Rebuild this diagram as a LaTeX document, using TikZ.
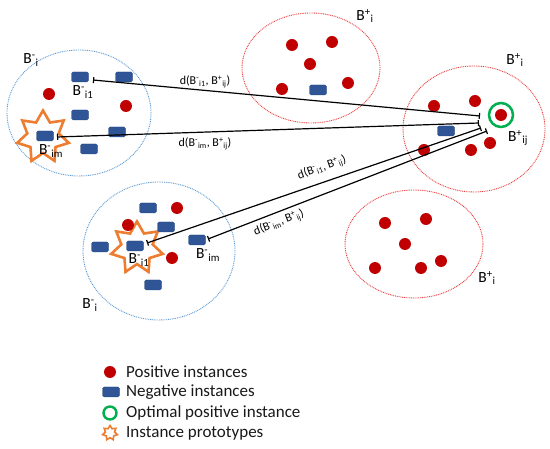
\documentclass[tikz,border=0pt]{standalone}
\usepackage{fontspec}
\setmainfont{Carlito}
\usetikzlibrary{shapes.geometric,arrows.meta}
\definecolor{posred}{RGB}{192,0,0}
\definecolor{negblue}{RGB}{47,85,151}
\definecolor{bagblue}{RGB}{91,155,213}
\definecolor{bagred}{RGB}{235,60,60}
\definecolor{optgreen}{RGB}{0,176,80}
\definecolor{protoorange}{RGB}{237,125,49}
\newcommand{\bagl}[2]{B\textsuperscript{#1}\textsubscript{#2}}
\begin{document}
\begin{tikzpicture}[x=1pt,y=-1pt,
 posinst/.style={circle,fill=posred,minimum size=12pt,inner sep=0pt},
 neginst/.style={rectangle,rounded corners=1.5pt,fill=negblue,draw=negblue!80!black,line width=0.3pt,minimum width=17pt,minimum height=10pt,inner sep=0pt},
 negbag/.style={draw=bagblue,line width=0.9pt,dash pattern=on 0.9pt off 0.9pt},
 posbag/.style={draw=bagred,line width=0.9pt,dash pattern=on 0.9pt off 0.9pt},
 proto/.style={star,star points=7,star point ratio=1.65,draw=protoorange,line width=2.6pt,minimum size=53pt,inner sep=0pt},
 opt/.style={circle,draw=optgreen,line width=2.5pt,minimum size=24pt,inner sep=0pt},
 lbl/.style={font=\fontsize{15.5}{17}\selectfont,inner sep=0pt},
 dlbl/.style={font=\fontsize{12}{14}\selectfont,inner sep=0pt},
 dist/.style={{Bar[width=6pt,line width=1.2pt]}-{Bar[width=6pt,line width=1.2pt]},line width=1.2pt},
 leg/.style={font=\fontsize{17}{19}\selectfont,anchor=west,inner sep=0pt,text=black!90}]
\useasboundingbox[fill=white] (0,0) rectangle (550,449);

% bags
\draw[negbag] (79,113) ellipse [x radius=72pt, y radius=63pt];
\draw[negbag] (159,251) ellipse [x radius=76pt, y radius=69pt];
\draw[posbag] (311,68) ellipse [x radius=69pt, y radius=55pt];
\draw[posbag] (474,129) ellipse [x radius=71pt, y radius=63pt];
\draw[posbag] (414,244) ellipse [x radius=69pt, y radius=54pt];

% prototypes
\node[proto] (s1) at (43,137) {};
\node[proto] (s2) at (137,248) {};

% top-left negative bag
\node[neginst] (n1) at (80,77) {};
\node[neginst] (n2) at (124,77) {};
\node[neginst] (n3) at (80,115) {};
\node[neginst] (n4) at (45,136) {};
\node[neginst] (n5) at (117,132) {};
\node[neginst] (n6) at (89,149) {};
\node[posinst] (p1) at (49,94) {};
\node[posinst] (p2) at (126,106) {};

% lower-left negative bag
\node[neginst] (n7) at (148,208) {};
\node[neginst] (n8) at (166,227) {};
\node[neginst] (n9) at (100,247) {};
\node[neginst] (n10) at (135,246) {};
\node[neginst] (n11) at (197,240) {};
\node[neginst] (n12) at (153,285) {};
\node[posinst] (p3) at (177,208) {};
\node[posinst] (p4) at (128,225) {};
\node[posinst] (p5) at (172,258) {};

% top-middle positive bag
\node[posinst] (p6) at (292,45) {};
\node[posinst] (p7) at (332,42) {};
\node[posinst] (p8) at (310,64) {};
\node[posinst] (p9) at (282,89) {};
\node[posinst] (p10) at (348,83) {};
\node[neginst] (n13) at (318,90) {};

% right positive bag
\node[posinst] (p11) at (434,106) {};
\node[posinst] (p12) at (475,101) {};
\node[posinst] (p13) at (424,150) {};
\node[posinst] (p14) at (471,150) {};
\node[posinst] (p15) at (490,143) {};
\node[neginst] (n14) at (446,131) {};
\node[opt] (o1) at (501,115) {};
\node[posinst] (p16) at (501,115) {};

% lower-right positive bag
\node[posinst] (p17) at (385,223) {};
\node[posinst] (p18) at (426,219) {};
\node[posinst] (p19) at (405,244) {};
\node[posinst] (p20) at (375,268) {};
\node[posinst] (p21) at (421,268) {};
\node[posinst] (p22) at (441,261) {};

% distance connectors
\coordinate (a1) at (93,80);
\coordinate (b1) at (480,116);
\coordinate (a2) at (57,137);
\coordinate (b2) at (479,123);
\coordinate (a3) at (147,243);
\coordinate (b3) at (481,128);
\coordinate (a4) at (208,239);
\coordinate (b4) at (487,131);
\draw[dist] (a1) -- (b1);
\draw[dist] (a2) -- (b2);
\draw[dist] (a3) -- (b3);
\draw[dist] (a4) -- (b4);

\node[dlbl] (d1) at (205,82) {d(\bagl{-}{i1}, \bagl{+}{ij})};
\node[dlbl] (d2) at (205,144) {d(\bagl{-}{im}, \bagl{+}{ij})};
\node[dlbl,rotate=19.5] (d3) at (322,168) {d(\bagl{-}{i1}, \bagl{+}{ij})};
\node[dlbl,rotate=21] (d4) at (279,223) {d(\bagl{-}{im}, \bagl{+}{ij})};

% bag and instance labels
\node[lbl] (l1) at (31,60) {\bagl{-}{i}};
\node[lbl] (l2) at (83,92) {\bagl{-}{i1}};
\node[lbl] (l3) at (51,151) {\bagl{-}{im}};
\node[lbl] (l4) at (365,16) {\bagl{+}{i}};
\node[lbl] (l5) at (515,60) {\bagl{+}{i}};
\node[lbl] (l6) at (518,138) {\bagl{+}{ij}};
\node[lbl] (l7) at (487,278) {\bagl{+}{i}};
\node[lbl] (l8) at (139,260) {\bagl{-}{i1}};
\node[lbl] (l9) at (208,255) {\bagl{-}{im}};
\node[lbl] (l10) at (90,305) {\bagl{-}{i}};

% legend
\node[posinst] (k1) at (110,372) {};
\node[neginst] (k2) at (111,392) {};
\node[circle,draw=optgreen,line width=2.4pt,minimum size=13pt,inner sep=0pt] (k3) at (110,413) {};
\node[star,star points=7,star point ratio=1.6,draw=protoorange,line width=1.6pt,minimum size=15pt,inner sep=0pt] (k4) at (110,433) {};
\node[leg] (t1) at (126,372) {Positive instances};
\node[leg] (t2) at (126,392) {Negative instances};
\node[leg] (t3) at (126,413) {Optimal positive instance};
\node[leg] (t4) at (126,433) {Instance prototypes};
\end{tikzpicture}
\end{document}
